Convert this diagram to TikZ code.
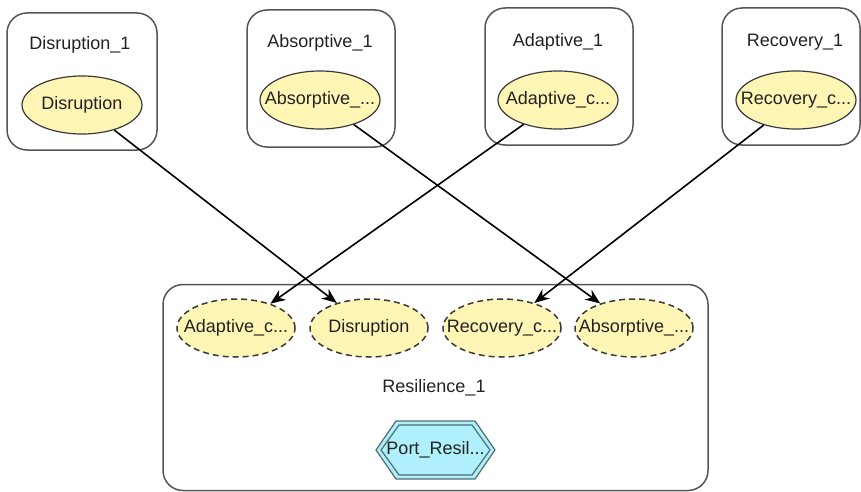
\documentclass[tikz,border=0pt]{standalone}
\usepackage{fontspec}
\setmainfont{Liberation Sans}
\usetikzlibrary{shapes.geometric,arrows.meta}
\definecolor{boxline}{HTML}{555555}
\definecolor{ellfill}{HTML}{FFF5B5}
\definecolor{ellline}{HTML}{3A3A3A}
\definecolor{txt}{HTML}{222222}
\definecolor{portfill}{HTML}{B0F0FC}
\definecolor{portline}{HTML}{4E6E72}
\tikzset{
  x=1pt, y=-1pt,
  every node/.style={font=\fontsize{18}{20}\selectfont, text=txt},
  box/.style={draw=boxline, line width=1.5pt, rounded corners=20pt, rectangle, minimum height=137pt, inner sep=0pt},
  lbl/.style={inner sep=0pt},
  ell/.style={ellipse, draw=ellline, fill=ellfill, line width=1.2pt, minimum width=120pt, minimum height=58pt, inner sep=0pt},
  dell/.style={ell, minimum width=118pt, line width=1.5pt, dash pattern=on 6pt off 4pt, draw=ellline},
  arr/.style={draw=black, line width=1.6pt, -{Stealth[length=15pt,width=12pt]}},
}
\begin{document}
\begin{tikzpicture}
\useasboundingbox (0,0) rectangle (861,492);
% top containers
\node[box, minimum width=150pt] (dbox) at (82,81.5) {};
\node[box, minimum width=148pt] (abbox) at (321,78.5) {};
\node[box, minimum width=148pt] (adbox) at (559,76.5) {};
\node[box, minimum width=138pt] (rbox) at (791,76.5) {};
\node[lbl] (dlab) at (80,45) {Disruption\_1};
\node[lbl] (ablab) at (320,43) {Absorptive\_1};
\node[lbl] (adlab) at (558,42) {Adaptive\_1};
\node[lbl] (rlab) at (795,42) {Recovery\_1};
\node[ell] (d1) at (82,105) {\makebox[0pt]{Disruption}};
\node[ell] (ab1) at (320,100) {\makebox[0pt]{Absorptive\_...}};
\node[ell] (ad1) at (558,100) {\makebox[0pt]{Adaptive\_c...}};
\node[ell] (r1) at (796,100) {\makebox[0pt]{Recovery\_c...}};
% bottom container
\node[box, minimum width=545pt, minimum height=206pt] (resbox) at (435.5,387.5) {};
\node[dell] (ad2) at (236,328) {\makebox[0pt]{Adaptive\_c...}};
\node[dell] (d2) at (369,328) {\makebox[0pt]{Disruption}};
\node[dell] (r2) at (502,328) {\makebox[0pt]{Recovery\_c...}};
\node[dell] (ab2) at (634,328) {\makebox[0pt]{Absorptive\_...}};
\node[lbl] (reslab) at (434,388) {Resilience\_1};
% port hexagon
\draw[draw=portline, fill=portfill, line width=1.2pt]
  (376,450) -- (396,421) -- (475,421) -- (495,450) -- (475,479) -- (396,479) -- cycle;
\draw[draw=portline, line width=1.2pt]
  (381,450) -- (399,425) -- (472,425) -- (490,450) -- (472,475) -- (399,475) -- cycle;
\node[lbl] (port) at (435.5,450) {\makebox[0pt]{Port\_Resil...}};
% connectors
\draw[arr] (d1) -- (d2);
\draw[arr] (ab1) -- (ab2);
\draw[arr] (ad1) -- (ad2);
\draw[arr] (r1) -- (r2);
\end{tikzpicture}
\end{document}
